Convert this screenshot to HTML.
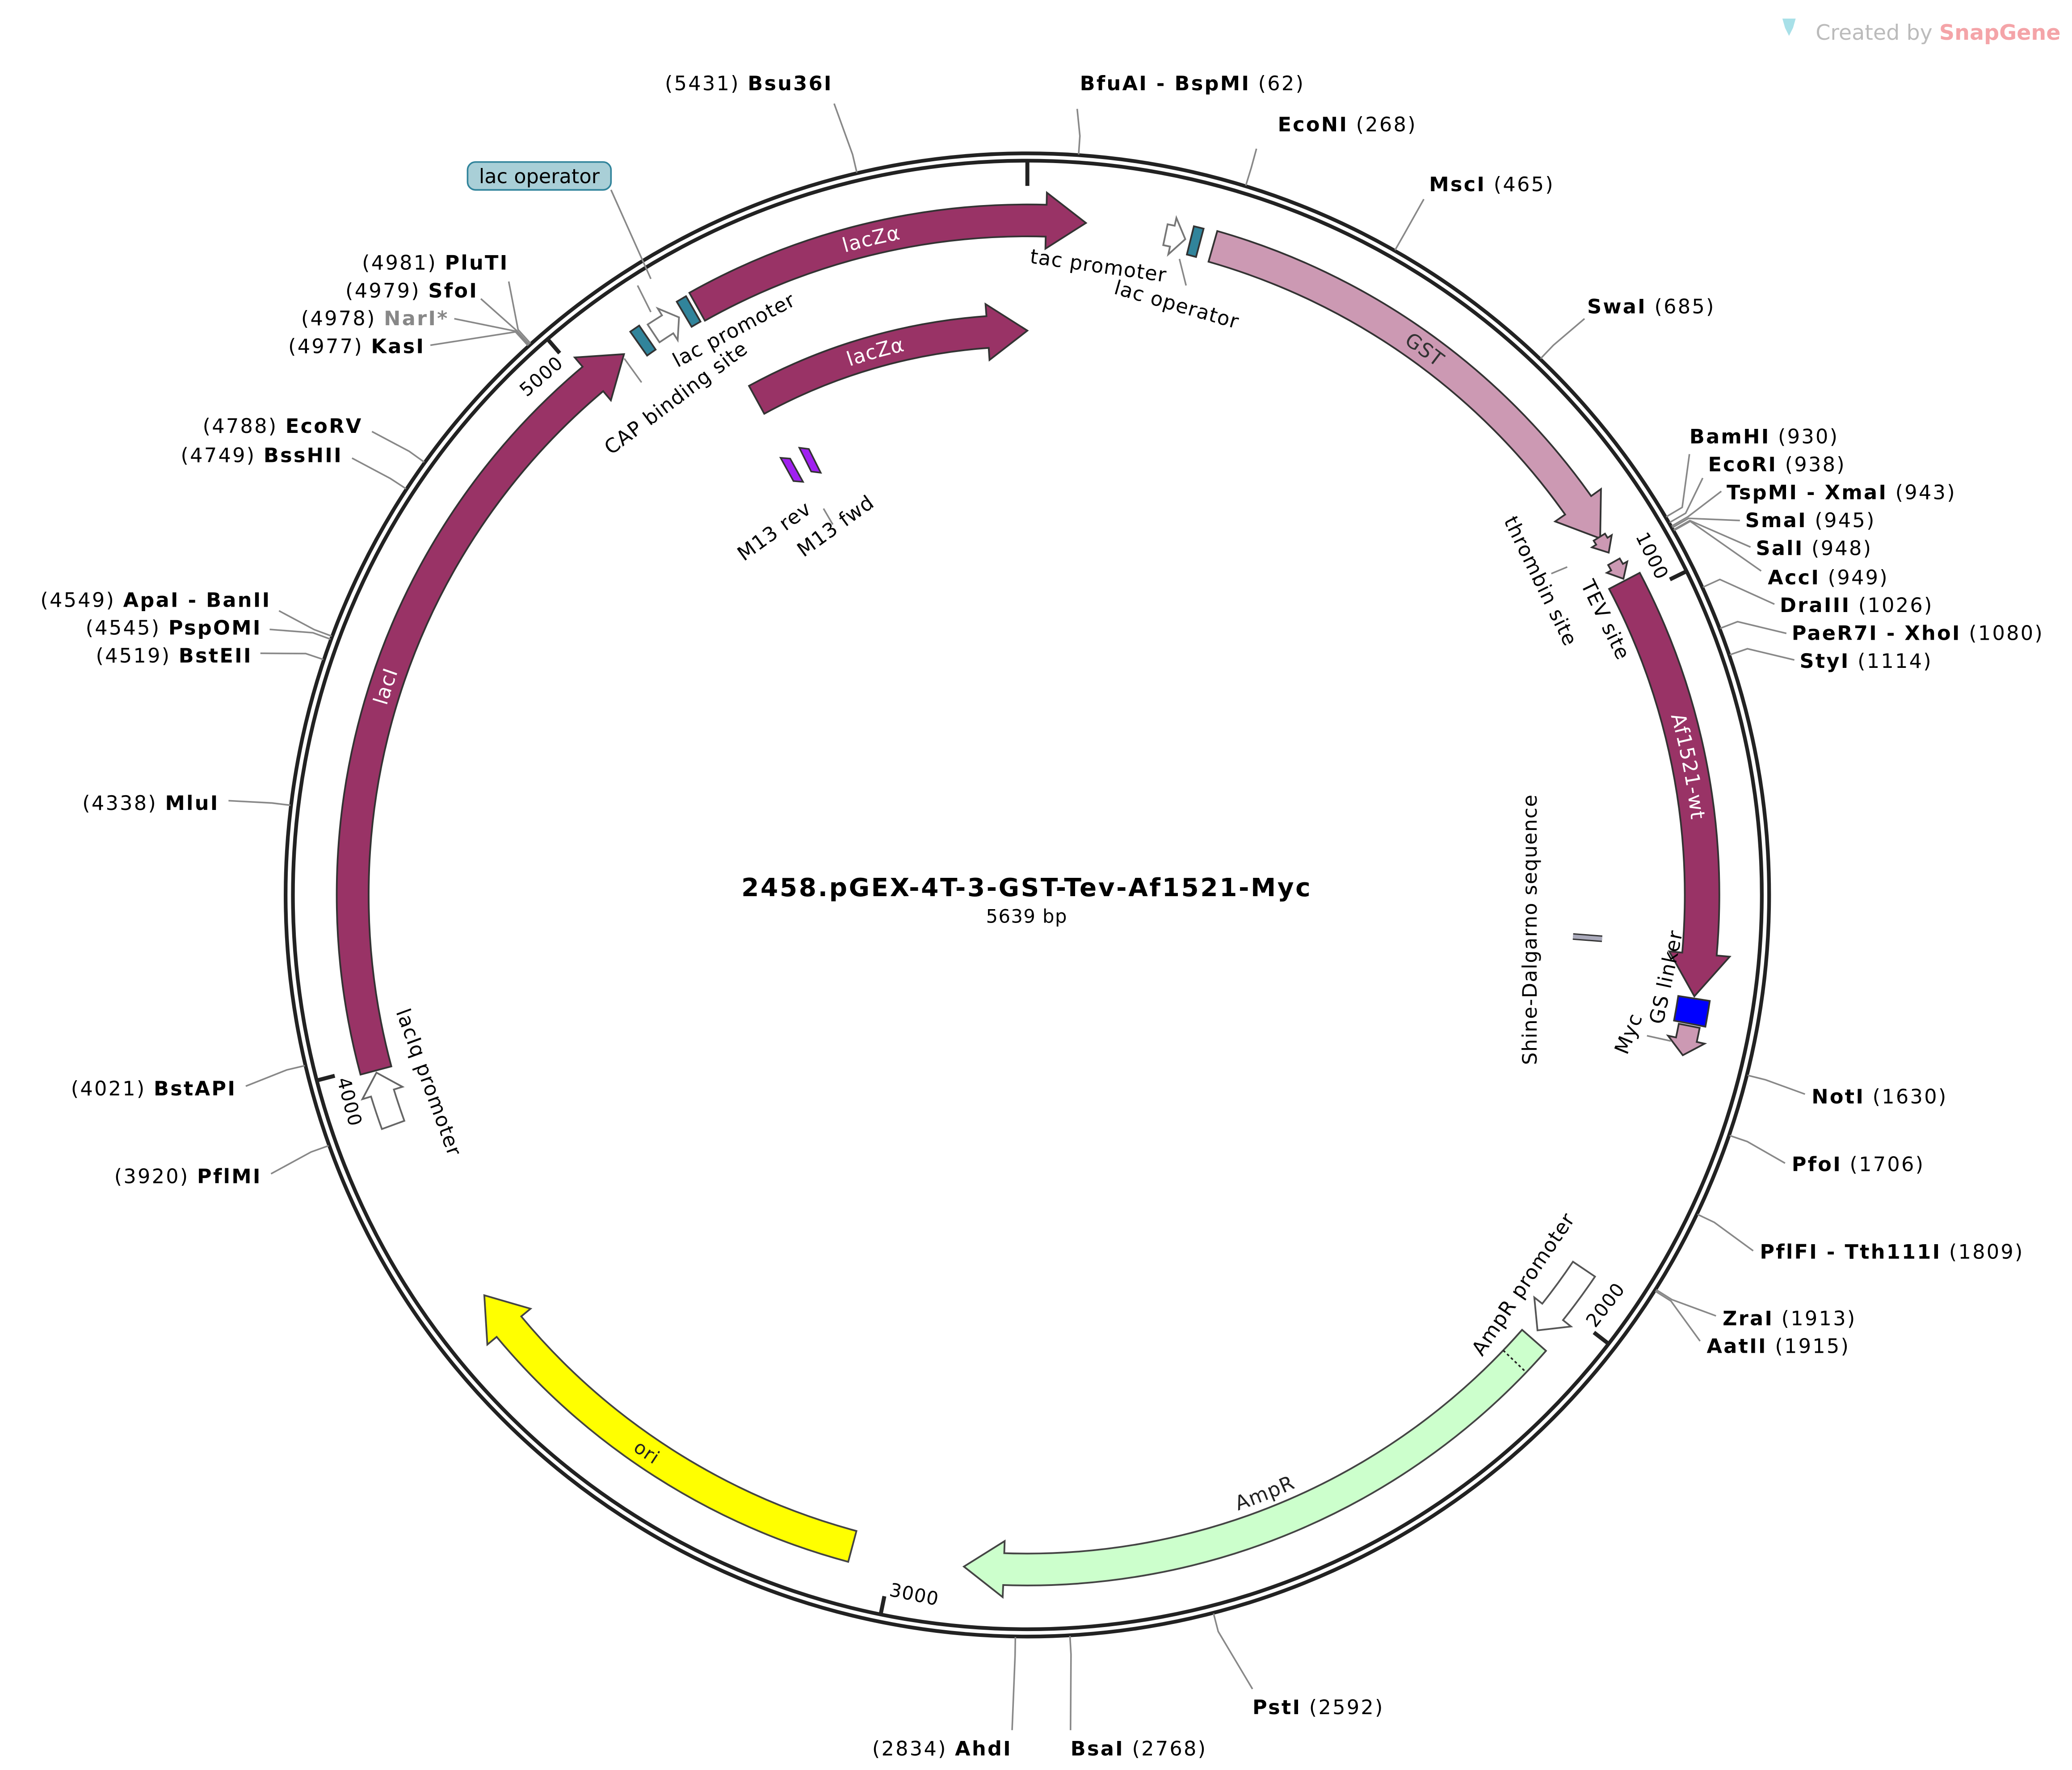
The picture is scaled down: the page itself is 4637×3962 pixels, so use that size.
<!DOCTYPE html>
<html><head><meta charset="utf-8"><style>
html,body{margin:0;padding:0;background:#fff;}
svg{display:block;}
text{font-family:"DejaVu Sans","Liberation Sans",sans-serif;letter-spacing:0.5px;}
</style></head><body>
<svg id="s" xmlns="http://www.w3.org/2000/svg" width="4637" height="3962" viewBox="0 0 1560 1333">
<rect width="1560" height="1333" fill="#fff"/>
<g id="g"></g>
<text x="1367" y="30" font-size="16" fill="#bbb" style="letter-spacing:0">Created by <tspan fill="#f4a4a8" font-weight="bold">SnapGene</tspan></text>
<path d="M1342,14 l10,0 l-2,7 l-3,6 l-3,-6z" fill="#a8e0e8"/>
<text x="773" y="675" font-size="19" font-weight="bold" text-anchor="middle" style="letter-spacing:1.2px">2458.pGEX-4T-3-GST-Tev-Af1521-Myc</text>
<text x="773" y="695" font-size="14" text-anchor="middle">5639 bp</text>
<rect x="352" y="122" width="108" height="21" rx="6" fill="#a9cfd7" stroke="#31849b" stroke-width="1.2"/>
<text x="406" y="138" font-size="15" text-anchor="middle" style="letter-spacing:0">lac operator</text>
<line x1="460" y1="143" x2="490" y2="210" stroke="#888" stroke-width="1.2"/>
</svg>
<script>
const NS="http://www.w3.org/2000/svg";
const g=document.getElementById('g');
const cx=773.5,cy=674,N=5639;
function P(bp,r){const t=bp/N*2*Math.PI;return [cx+r*Math.sin(t),cy-r*Math.cos(t)];}
function f(p){return p[0].toFixed(1)+','+p[1].toFixed(1);}
function el(tag,attrs,txt){const e=document.createElementNS(NS,tag);for(const k in attrs)e.setAttribute(k,attrs[k]);if(txt!==undefined)e.textContent=txt;g.appendChild(e);return e;}
function bpOfPx(px,r){return px/(2*Math.PI*r)*N;}
function arrow(a,b,r,w,headPx,fill,stroke){
  const hb=headPx?bpOfPx(headPx,r):0;const h=b-hb;const ro=r+w/2,ri=r-w/2,e=headPx?w*0.38:0;
  const L=(h-a)/N>0.5?1:0;
  let d=`M${f(P(a,ro))} A${ro},${ro} 0 ${L} 1 ${f(P(h,ro))}`;
  if(headPx){d+=` L${f(P(h,ro+e))} L${f(P(b,r))} L${f(P(h,ri-e))} L${f(P(h,ri))}`;}
  else d+=` L${f(P(h,ri))}`;
  d+=` A${ri},${ri} 0 ${L} 0 ${f(P(a,ri))} Z`;
  el('path',{d:d,fill:fill,stroke:stroke||'#333','stroke-width':1.3,'stroke-linejoin':'miter'});
}
let pid=0;
function arcLabel(a,b,r,txt,color,cw,size,dy){
  const id='p'+(pid++);const L=Math.abs(b-a)/N>0.5?1:0;
  const d=cw?`M${f(P(a,r))} A${r},${r} 0 ${L} 1 ${f(P(b,r))}`:`M${f(P(b,r))} A${r},${r} 0 ${L} 0 ${f(P(a,r))}`;
  el('path',{id:id,d:d,fill:'none',stroke:'none'});
  const t=el('text',{'font-size':size||15,fill:color,dy:dy||5});
  const tp=document.createElementNS(NS,'textPath');tp.setAttribute('href','#'+id);tp.setAttribute('startOffset','50%');tp.setAttribute('text-anchor','middle');tp.textContent=txt;t.appendChild(tp);
}
// ring
el('circle',{cx:cx,cy:cy,r:558.5,fill:'none',stroke:'#222','stroke-width':2.8});
el('circle',{cx:cx,cy:cy,r:553,fill:'none',stroke:'#222','stroke-width':2.8});
// ticks
[[0,''],[1000,'1000'],[2000,'2000'],[3000,'3000'],[4000,'4000'],[5000,'5000']].forEach(([bp,l])=>{
  const p1=P(bp,553),p2=P(bp,bp==0?534:539);
  el('line',{x1:p1[0],y1:p1[1],x2:p2[0],y2:p2[1],stroke:'#222','stroke-width':3});
  if(l){const th=bp/N*360;const top=(th<90||th>270);const rot=top?th:th-180;const pos=P(bp,541);
    el('text',{x:0,y:0,'font-size':14,'text-anchor':top?'end':'start',transform:`translate(${pos[0]},${pos[1]}) rotate(${rot}) translate(${top?-3:3},${top?11:-3})`},l);}
});
// features
const MAG='#993366';
arrow(5180,5639+78,508,24,30,MAG);
arcLabel(5180,5639+40,508,'lacZα','#fff',true,15,5);
arrow(5190,5639,425,24,30,MAG);
arcLabel(5190,5639-40,425,'lacZα','#fff',true,15,5);
arrow(3993,5064,508,24,30,MAG);
arcLabel(3993,5030,508,'lacI','#fff',true,15,5);
arrow(3917,3990,508,18,16,'#fff','#666');
arrow(250,910,508,24,30,'#cc99b3');
arcLabel(250,880,508,'GST','#333',true,15,5);
arrow(908,932,508,10,10,'#cc99b3');
arrow(946,972,508,10,10,'#cc99b3');
arrow(975,1545,508,26,32,MAG);
arcLabel(975,1500,508,'Af1521-wt','#fff',true,15,5);
arrow(1548,1582,508,24,0,'#0000ff');
arrow(1585,1625,508,16,12,'#cc99b3');
arrow(1941,2044,505,20,18,'#fff','#555');
arrow(2057,2904,508,24,30,'#ccffcc','#444');
(function(){const a=P(2095,496),b=P(2095,520);el('line',{x1:a[0],y1:a[1],x2:b[0],y2:b[1],stroke:'#222','stroke-width':1.2,'stroke-dasharray':'2,2'});})();
arcLabel(2057,2904,485,'AmpR','#222',false,15,0);
arrow(3055,3659,508,24,30,'#ffff00','#444');
arcLabel(3055,3659,508,'ori','#222',false,14,5);
// small elements
arrow(5088,5102,508,22,0,'#31849b');
arrow(5112,5152,508,16,10,'#fff','#777');
arrow(5160,5174,508,22,0,'#31849b');
arrow(185,212,508,16,10,'#fff','#777');
arrow(219,232,508,22,0,'#31849b');
// Shine-Dalgarno
(function(){const a=P(1478,412),b=P(1478,434);el('line',{x1:a[0],y1:a[1],x2:b[0],y2:b[1],stroke:'#333','stroke-width':5});el('line',{x1:a[0],y1:a[1],x2:b[0],y2:b[1],stroke:'#aab','stroke-width':3});})();
// M13 primers
[5185,5223].forEach((bp)=>{const p=P(bp,366);const th=bp/N*360-360;
  el('path',{d:'M-3,-12 L3,-8 L3,12 L-3,8 Z',fill:'#a020f0',stroke:'#333','stroke-width':1.2,transform:`translate(${p[0]},${p[1]}) rotate(${th})`});});
// feature text labels
function tl(x,y,rot,txt,anchor,size){el('text',{x:0,y:0,'font-size':size||15,'text-anchor':anchor||'start',transform:`translate(${x},${y}) rotate(${rot})`},txt);}
tl(510,277,-28,'lac promoter');
tl(460,343,-37,'CAP binding site');
tl(775,198,8,'tac promoter');
tl(838,221,16,'lac operator');
tl(1132,392,64,'thrombin site');
tl(1190,440,64,'TEV site');
tl(1157,700,-90,'Shine-Dalgarno sequence','middle');
tl(1252,772,-78,'GS linker');
tl(1225,795,-68,'Myc');
tl(560,423,-36,'M13 rev');
tl(605,420,-36,'M13 fwd');
tl(1116,1022,-56,'AmpR promoter');
tl(298,762,70,'lacIq promoter');
function ln(pts){el('polyline',{points:pts.map(p=>p.join(',')).join(' '),fill:'none',stroke:'#888','stroke-width':1.2});}
ln([[490,235],[480,215]]);ln([[470,270],[483,288]]);ln([[888,195],[893,215]]);ln([[1180,427],[1168,432]]);ln([[1258,784],[1240,780]]);ln([[620,383],[627,395]]);
// enzymes
const R=[
['BfuAI - BspMI',62,813,68,[811,82]],
['EcoNI',268,962,99,[946,112]],
['MscI',465,1076,144,[1072,150]],
['SwaI',685,1195,236,[1193,240]],
['BamHI',930,1272,334,[1272,342]],
['EcoRI',938,1286,355,[1282,360]],
['TspMI - XmaI',943,1300,376,[1296,370]],
['SmaI',945,1314,397,[1310,392]],
['SalI',948,1322,418,[1318,412]],
['AccI',949,1331,440,[1326,430]],
['DraIII',1026,1340,461,[1336,455]],
['PaeR7I - XhoI',1080,1349,482,[1345,477]],
['StyI',1114,1355,503,[1351,497]],
['NotI',1630,1364,831,[1359,824]],
['PfoI',1706,1349,882,[1344,876]],
['PflFI - Tth111I',1809,1325,948,[1320,942]],
['ZraI',1913,1297,998,[1292,991]],
['AatII',1915,1285,1019,[1280,1010]],
['PstI',2592,943,1291,[943,1272]],
['BsaI',2768,806,1322,[806,1303]],
];
R.forEach(([n,bp,x,y,c])=>{const a=P(bp,559),b=P(bp,573);ln([a,b,c]);
  const t=el('text',{x:x,y:y,'font-size':15,'xml:space':'preserve',style:'letter-spacing:1.1px'});
  const s=document.createElementNS(NS,'tspan');s.setAttribute('font-weight','bold');s.textContent=n;t.appendChild(s);
  t.appendChild(document.createTextNode('   ('+bp+')'));});
const Lf=[
['Bsu36I',5431,627,68,[628,78],'#000'],
['PluTI',4981,383,203,[383,212],'#000'],
['SfoI',4979,360,224,[362,225],'#000'],
['NarI*',4978,338,245,[342,240],'#888'],
['KasI',4977,320,266,[324,260],'#000'],
['EcoRV',4788,273,326,[280,325],'#000'],
['BssHII',4749,258,348,[265,345],'#000'],
['ApaI - BanII',4549,204,457,[210,460],'#000'],
['PspOMI',4545,197,478,[203,474],'#000'],
['BstEII',4519,190,499,[196,492],'#000'],
['MluI',4338,165,610,[172,603],'#000'],
['BstAPI',4021,178,825,[185,818],'#000'],
['PflMI',3920,197,891,[204,884],'#000'],
['AhdI',2834,762,1322,[762,1303],'#000'],
];
Lf.forEach(([n,bp,x,y,c,col])=>{const a=P(bp,559),b=P(bp,573);ln([a,b,c]);
  const t=el('text',{x:x,y:y,'font-size':15,'text-anchor':'end','xml:space':'preserve',style:'letter-spacing:1.1px'});
  t.appendChild(document.createTextNode('('+bp+')   '));
  const s=document.createElementNS(NS,'tspan');s.setAttribute('font-weight','bold');s.setAttribute('fill',col);s.textContent=n;t.appendChild(s);});
</script>
</body></html>
